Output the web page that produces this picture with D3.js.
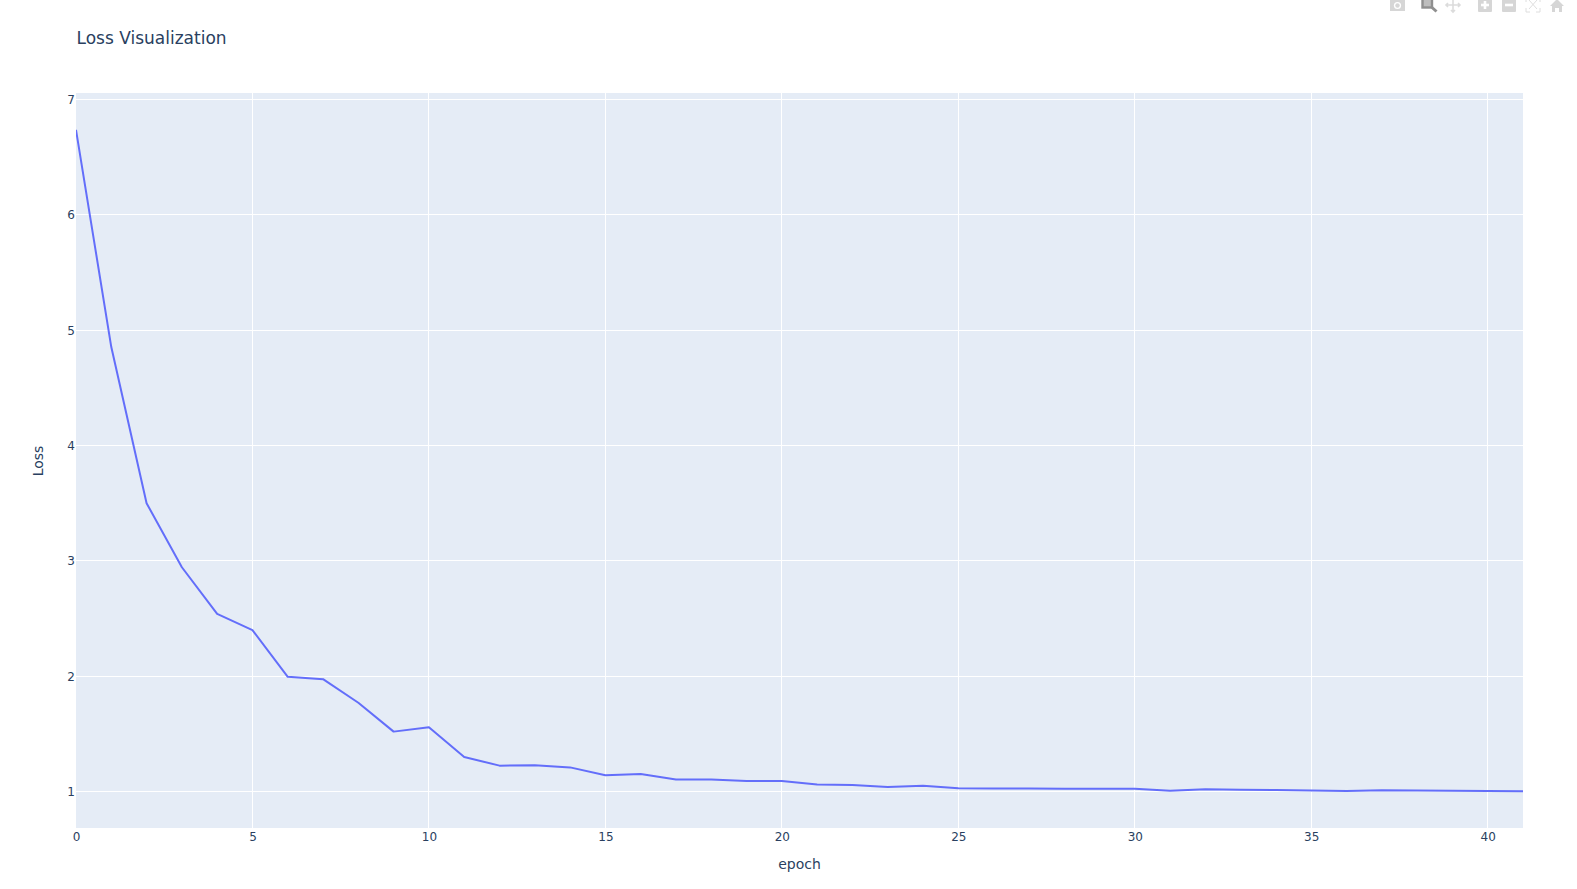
<!DOCTYPE html>
<html>
<head>
<meta charset="utf-8">
<script src="https://cdn.jsdelivr.net/npm/d3@7"></script>
<style>html,body{margin:0;padding:0;background:#fff;overflow:hidden}svg{display:block}text{font-family:"DejaVu Sans",sans-serif}</style>
</head>
<body>
<script>
const epochs = d3.range(0, 42);
const loss = [6.737,4.854,3.5,2.945,2.54,2.4,1.995,1.975,1.77,1.52,1.557,1.3,1.225,1.228,1.21,1.141,1.153,1.104,1.104,1.092,1.092,1.062,1.058,1.04,1.05,1.03,1.026,1.026,1.025,1.025,1.024,1.008,1.02,1.016,1.013,1.009,1.005,1.012,1.01,1.008,1.005,1.003];
const xTicks = [0,5,10,15,20,25,30,35,40];
const yTicks = [1,2,3,4,5,6,7];
const titleText = "Loss Visualization", xTitle = "epoch", yTitle = "Loss";

const W = 1577, H = 889, L = 76, R = 1523, T = 93, B = 828;
const ink = "#2a3f5f";
const svg = d3.select("body").append("svg").attr("width", W).attr("height", H);
const x = d3.scaleLinear().domain([0, 41]).range([L, R]);
const y = d3.scaleLinear().domain([1, 7]).range([791.6, 99.5]);

svg.append("rect").attr("x", L).attr("y", T).attr("width", R - L).attr("height", B - T).attr("fill", "#E5ECF6");
svg.append("defs").append("clipPath").attr("id", "plot").append("rect").attr("x", L).attr("y", T).attr("width", R - L).attr("height", B - T);

const xAxis = svg.append("g").attr("transform", `translate(0,${B})`)
  .call(d3.axisBottom(x).tickValues(xTicks).tickSize(0).tickPadding(4).tickFormat(d3.format("d")));
const yAxis = svg.append("g").attr("transform", `translate(${L},0)`)
  .call(d3.axisLeft(y).tickValues(yTicks).tickSize(0).tickPadding(1).tickFormat(d3.format("d")));
[xAxis, yAxis].forEach(a => {
  a.select(".domain").remove();
  a.selectAll("text").attr("fill", ink).style("font-size", "12px").style("font-family", '"DejaVu Sans",sans-serif');
});
const grid = svg.append("g").attr("stroke", "#fff").attr("stroke-width", 1).attr("shape-rendering", "crispEdges");
grid.selectAll(".v").data(xTicks.filter(d => d > 0)).join("line").attr("class", "v")
  .attr("x1", d => x(d)).attr("x2", d => x(d)).attr("y1", T).attr("y2", B);
grid.selectAll(".h").data(yTicks).join("line").attr("class", "h")
  .attr("x1", L).attr("x2", R).attr("y1", d => y(d)).attr("y2", d => y(d));

svg.append("path").datum(epochs.map((e, i) => [e, loss[i]]))
  .attr("clip-path", "url(#plot)").attr("fill", "none").attr("stroke", "#636EFA")
  .attr("stroke-width", 2).attr("stroke-linejoin", "round")
  .attr("d", d3.line().x(d => x(d[0])).y(d => y(d[1])));

svg.append("text").text(titleText).attr("x", 76.5).attr("y", 44).attr("fill", ink).style("font-size", "17px");
svg.append("text").text(xTitle).attr("x", (L + R) / 2).attr("y", 869).attr("text-anchor", "middle").attr("fill", ink).style("font-size", "14px");
svg.append("text").text(yTitle).attr("transform", "translate(43,461) rotate(-90)").attr("text-anchor", "middle").attr("fill", ink).style("font-size", "14px");

// mode bar
const bar = svg.append("g").attr("fill", "#d6d6d6");
const cam = bar.append("g");
cam.append("path").attr("d", "M1390 0H1405V11H1390Z M1394 0L1396 -2H1401L1403 0Z");
cam.append("circle").attr("cx", 1397.5).attr("cy", 5.5).attr("r", 3.6).attr("fill", "#fff");
cam.append("circle").attr("cx", 1397.5).attr("cy", 5.5).attr("r", 2.2);
const zoomIcon = bar.append("g");
zoomIcon.append("rect").attr("x", 1422.5).attr("y", -2).attr("width", 9.5).attr("height", 9.5).attr("fill", "#bdbdbd").attr("stroke", "#8f8f8f").attr("stroke-width", 2.4);
zoomIcon.append("line").attr("x1", 1432).attr("y1", 7.5).attr("x2", 1436.5).attr("y2", 11.5).attr("stroke", "#8f8f8f").attr("stroke-width", 3);
bar.append("path").attr("fill", "none").attr("stroke", "#dcdcdc").attr("stroke-width", 1.6)
  .attr("d", "M1446 5H1460M1453 -2V12M1448 3L1446 5L1448 7M1458 3L1460 5L1458 7M1451 10L1453 12L1455 10");
[1485, 1509].forEach(cx => {
  bar.append("rect").attr("x", cx - 7).attr("y", -2).attr("width", 14).attr("height", 14).attr("rx", 1);
  bar.append("rect").attr("x", cx - 4).attr("y", 3.7).attr("width", 8).attr("height", 2.6).attr("fill", "#fff");
});
bar.append("rect").attr("x", 1483.7).attr("y", 1).attr("width", 2.6).attr("height", 8).attr("fill", "#fff");
bar.append("path").attr("fill", "none").attr("stroke", "#dedede").attr("stroke-width", 1)
  .attr("d", "M1526 8V12H1530M1540 8V12H1536M1529 0L1537 9M1537 0L1529 9M1526 -1V2M1540 -1V2");
bar.append("path").attr("d", "M1550 6L1557 -1L1564 6L1562 6V12H1559V8H1555V12H1552V6Z");
</script>
</body>
</html>
